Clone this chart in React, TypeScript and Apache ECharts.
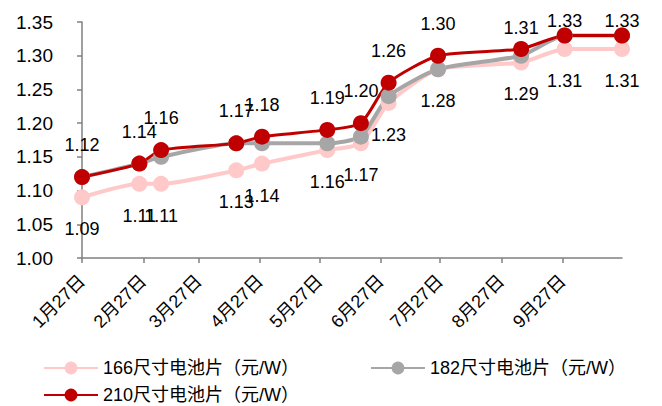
import React, { useEffect, useRef } from "react";
import * as echarts from "echarts";

const dates = [
  "2021-01-27", "2021-02-25", "2021-03-08", "2021-04-15", "2021-04-28", "2021-05-31",
  "2021-06-17", "2021-07-01", "2021-07-26", "2021-09-06", "2021-09-28", "2021-10-27",
];
const s166 = [1.09, 1.11, 1.11, 1.13, 1.14, 1.16, 1.17, 1.23, 1.28, 1.29, 1.31, 1.31];
const s182 = [1.12, 1.14, 1.15, 1.17, 1.17, 1.17, 1.18, 1.24, 1.28, 1.30, 1.33, 1.33];
const s210 = [1.12, 1.14, 1.16, 1.17, 1.18, 1.19, 1.20, 1.26, 1.30, 1.31, 1.33, 1.33];
const names = ["166尺寸电池片（元/W）", "182尺寸电池片（元/W）", "210尺寸电池片（元/W）"];
const axisStart = "2021-01-27";
const axisEnd = "2021-10-27";
const yMin = 1.0;
const yMax = 1.35;
const yStep = 0.05;

const FONT = "Liberation Sans, Noto Sans CJK SC, sans-serif";
// label distance tweaks for the top series near the chart top (style only)
const redLabelDistance: Record<number, number> = { 9: 4, 10: -2, 11: -2 };

function buildDays(): string[] {
  const out: string[] = [];
  const d = new Date(axisStart + "T00:00:00Z");
  const end = new Date(axisEnd + "T00:00:00Z");
  while (d.getTime() <= end.getTime()) {
    out.push(d.toISOString().slice(0, 10));
    d.setUTCDate(d.getUTCDate() + 1);
  }
  return out;
}

function isTickDay(v: string): boolean {
  const m = parseInt(v.slice(5, 7), 10);
  const day = parseInt(v.slice(8, 10), 10);
  return day === 27 && m <= 9;
}

export default function App() {
  const ref = useRef<HTMLDivElement>(null);
  useEffect(() => {
    if (!ref.current) return;
    const chart = echarts.init(ref.current, null, { renderer: "svg" });
    const days = buildDays();
    const mk = (vals: number[]) => vals.map((v, i) => [dates[i], v]);
    const labelBase = {
      show: true,
      fontSize: 18,
      color: "#000",
      fontFamily: FONT,
      formatter: (p: any) => Number(p.value[1]).toFixed(2),
    };
    const common = {
      type: "line",
      smooth: 0.2,
      symbol: "circle",
      symbolSize: 16,
      showSymbol: true,
      showAllSymbol: true,
      labelLayout: { hideOverlap: false },
    };
    const legendText = { fontSize: 18, color: "#000", fontFamily: FONT };
    const legendCommon = { itemWidth: 54, itemHeight: 16, textStyle: legendText, itemGap: 6 };
    chart.setOption({
      animation: false,
      backgroundColor: "#fff",
      textStyle: { fontFamily: FONT },
      grid: { left: 82, right: 40, top: 22, bottom: 148 },
      legend: [
        { ...legendCommon, data: [names[0]], left: 38, top: 354 },
        { ...legendCommon, data: [names[1]], left: 365, top: 354 },
        { ...legendCommon, data: [names[2]], left: 38, top: 381 },
      ],
      xAxis: {
        type: "category",
        data: days,
        boundaryGap: false,
        axisLine: { lineStyle: { color: "#808080", width: 1.5 } },
        axisTick: { interval: (_i: number, v: string) => isTickDay(v), length: 5, lineStyle: { color: "#808080", width: 1.5 } },
        axisLabel: {
          interval: (_i: number, v: string) => isTickDay(v),
          rotate: 45,
          fontSize: 18,
          color: "#000",
          margin: 20,
          fontFamily: FONT,
          formatter: (v: string) => `${parseInt(v.slice(5, 7), 10)}月${parseInt(v.slice(8, 10), 10)}日`,
        },
        splitLine: { show: false },
      },
      yAxis: {
        type: "value",
        min: yMin,
        max: yMax,
        interval: yStep,
        axisLine: { show: true, lineStyle: { color: "#808080", width: 1.5 } },
        axisTick: { show: true, length: 5, lineStyle: { color: "#808080", width: 1.5 } },
        axisLabel: { fontSize: 19, color: "#000", margin: 29, fontFamily: FONT, formatter: (v: number) => v.toFixed(2) },
        splitLine: { show: false },
      },
      series: [
        {
          ...common,
          name: names[0],
          data: mk(s166),
          itemStyle: { color: "#FFC9C9" },
          lineStyle: { color: "#FFC9C9", width: 4 },
          label: { ...labelBase, position: "bottom", distance: 15 },
        },
        {
          ...common,
          name: names[1],
          data: mk(s182),
          itemStyle: { color: "#A6A6A6" },
          lineStyle: { color: "#A6A6A6", width: 4 },
          label: { show: false },
        },
        {
          ...common,
          name: names[2],
          data: mk(s210).map((d, i) =>
            redLabelDistance[i] !== undefined ? { value: d, label: { distance: redLabelDistance[i] } } : d
          ),
          itemStyle: { color: "#C00000" },
          lineStyle: { color: "#C00000", width: 3 },
          label: { ...labelBase, position: "top", distance: 15 },
        },
      ],
    });
    return () => chart.dispose();
  }, []);
  return <div ref={ref} style={{ position: "fixed", left: 0, top: 0, width: 662, height: 406 }} />;
}
